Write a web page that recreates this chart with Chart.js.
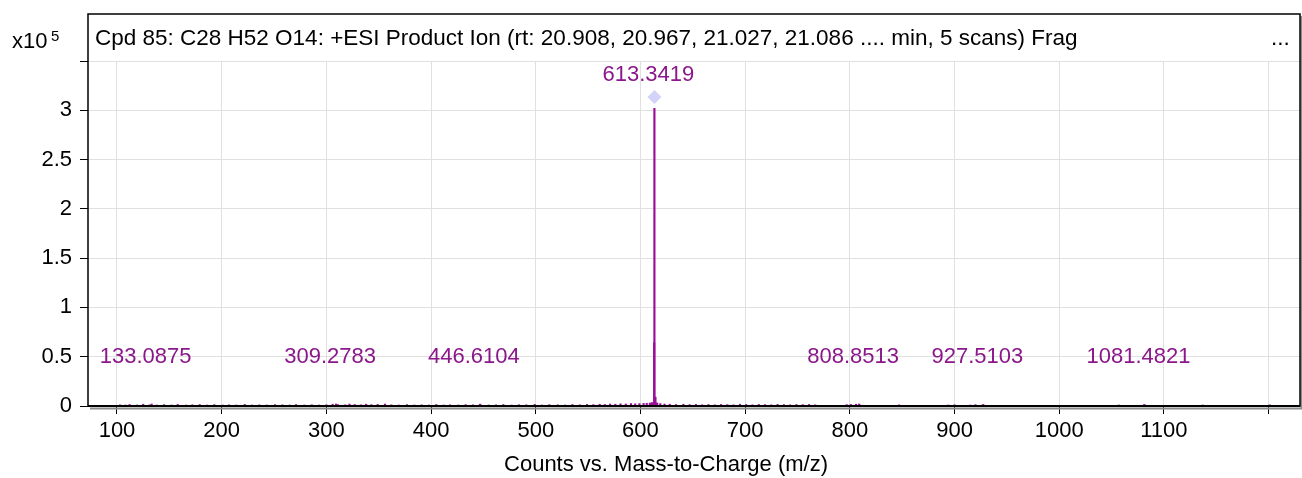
<!DOCTYPE html>
<html>
<head>
<meta charset="utf-8">
<script src="https://cdn.jsdelivr.net/npm/chart.js@4/dist/chart.umd.min.js"></script>
<style>
  html, body { margin: 0; padding: 0; background: #fff; overflow: hidden; }
  canvas { display: block; }
</style>
</head>
<body>
<canvas id="spectrum" width="1302" height="478"></canvas>
<script>
// MS/MS spectrum, Cpd 85 (C28 H52 O14), intensities in units of 10^5 counts

const titleText = 'Cpd 85: C28 H52 O14: +ESI Product Ion (rt: 20.908, 20.967, 21.027, 21.086 .... min, 5 scans) Frag';
const xAxisTitle = 'Counts vs. Mass-to-Charge (m/z)';
const xTicks = [100, 200, 300, 400, 500, 600, 700, 800, 900, 1000, 1100, 1200];
const yTicks = [0, 0.5, 1, 1.5, 2, 2.5, 3, 3.5];

// labelled peaks
const peakMz  = [133.0875, 309.2783, 446.6104, 613.3419, 808.8513, 927.5103, 1081.4821];
const peakInt = [0.02, 0.02, 0.018, 3.02, 0.02, 0.015, 0.015];

// unlabelled peaks next to the precursor
const minorMz  = [613.10, 614.34, 615.34];
const minorInt = [0.64, 0.09, 0.03];

// baseline noise
const noiseMz = [
  103, 108, 112, 119, 125, 131, 138, 145, 152, 158,
  166, 172, 179, 186, 193, 201, 207, 214, 222, 229,
  236, 243, 251, 258, 265, 271, 279, 286, 293, 300,
  306, 311, 318, 322, 327, 333, 338, 343, 349, 356,
  362, 369, 377, 384, 391, 398, 405, 412, 418, 426,
  433, 440, 447, 455, 462, 469, 477, 484, 491, 499,
  506, 513, 521, 528, 535, 542, 549, 555, 561, 566,
  571, 576, 581, 586, 591, 595, 599, 603, 606, 609,
  611, 616, 619, 623, 628, 634, 641, 647, 653, 659,
  665, 671, 677, 683, 689, 695, 701, 707, 713, 719,
  725, 731, 737, 743, 749, 755, 761, 767, 797, 801,
  806, 809, 847, 894, 900, 915, 920, 927, 1057, 1081,
  1137, 1201
];
const noiseInt = [
  0.012, 0.010, 0.015, 0.010, 0.018, 0.012, 0.010, 0.014, 0.010, 0.016,
  0.010, 0.012, 0.015, 0.010, 0.014, 0.010, 0.012, 0.010, 0.016, 0.010,
  0.012, 0.010, 0.014, 0.012, 0.010, 0.015, 0.010, 0.013, 0.010, 0.012,
  0.018, 0.014, 0.012, 0.020, 0.015, 0.012, 0.018, 0.014, 0.016, 0.020,
  0.012, 0.010, 0.014, 0.010, 0.012, 0.010, 0.015, 0.010, 0.012, 0.010,
  0.014, 0.012, 0.018, 0.010, 0.012, 0.015, 0.010, 0.013, 0.012, 0.016,
  0.010, 0.014, 0.012, 0.010, 0.015, 0.012, 0.016, 0.014, 0.018, 0.015,
  0.020, 0.018, 0.022, 0.020, 0.025, 0.022, 0.024, 0.026, 0.028, 0.030,
  0.035, 0.030, 0.024, 0.020, 0.018, 0.015, 0.018, 0.014, 0.016, 0.012,
  0.015, 0.012, 0.016, 0.014, 0.012, 0.018, 0.015, 0.012, 0.016, 0.014,
  0.012, 0.016, 0.014, 0.012, 0.015, 0.014, 0.016, 0.012, 0.014, 0.016,
  0.018, 0.016, 0.012, 0.010, 0.012, 0.010, 0.014, 0.012, 0.010, 0.012,
  0.010, 0.012
];

const FONT = "'Liberation Sans', Arial, sans-serif";
const PEAK_COLOR = '#9a0f9a';
const LABEL_COLOR = '#8b178b';

function toPoints(mz, ints) {
  return mz.map((m, i) => ({ x: m, y: ints[i] }));
}

const allPeaks = toPoints(noiseMz, noiseInt)
  .concat(toPoints(minorMz, minorInt))
  .concat(toPoints(peakMz, peakInt))
  .sort((a, b) => a.x - b.x);

const topIdx = peakInt.indexOf(Math.max(...peakInt));

// frame, title strip, labels
const decorPlugin = {
  id: 'decor',
  afterDraw(chart) {
    const ctx = chart.ctx;
    const area = chart.chartArea;
    const xs = chart.scales.x;
    const ys = chart.scales.y;
    ctx.save();

    // shadow
    ctx.strokeStyle = '#8c8c8c';
    ctx.lineWidth = 2;
    ctx.beginPath();
    ctx.moveTo(area.left + 2, area.bottom + 2.5);
    ctx.lineTo(area.right + 1.5, area.bottom + 2.5);
    ctx.lineTo(area.right + 1.5, 16);
    ctx.stroke();

    // frame
    ctx.strokeStyle = '#000';
    ctx.lineWidth = 1.5;
    ctx.strokeRect(area.left, 14, area.right - area.left, area.bottom - 14);
    ctx.lineWidth = 2;
    ctx.beginPath();
    ctx.moveTo(area.left, area.bottom);
    ctx.lineTo(area.right, area.bottom);
    ctx.stroke();

    // title
    ctx.fillStyle = '#000';
    ctx.font = '22.5px ' + FONT;
    ctx.textBaseline = 'alphabetic';
    ctx.textAlign = 'left';
    ctx.fillText(titleText, area.left + 7, 45);
    ctx.fillText('...', area.right - 29, 45);

    // exponent
    ctx.font = '22px ' + FONT;
    ctx.fillText('x10', 12, 48);
    ctx.font = '15px ' + FONT;
    ctx.fillText('5', 51, 41);

    // axis title
    ctx.font = '22px ' + FONT;
    ctx.textAlign = 'center';
    ctx.fillText(xAxisTitle, 666, 471);

    // peak labels
    ctx.fillStyle = LABEL_COLOR;
    ctx.font = '22px ' + FONT;
    ctx.textBaseline = 'middle';
    const zero = ys.getPixelForValue(0);
    peakMz.forEach((m, i) => {
      const px = xs.getPixelForValue(m);
      const top = ys.getPixelForValue(peakInt[i]);
      const y = Math.min(top - 33, zero - 49);
      ctx.fillText(m.toFixed(4), px - 6, y);
    });

    ctx.restore();
  }
};

const ctx = document.getElementById('spectrum').getContext('2d');
new Chart(ctx, {
  type: 'bar',
  data: {
    datasets: [
      {
        type: 'scatter',
        data: [{ x: peakMz[topIdx], y: peakInt[topIdx] + 0.115 }],
        pointStyle: 'rectRot',
        pointRadius: 7,
        backgroundColor: '#d3d3f9',
        borderColor: '#d3d3f9',
        borderWidth: 0
      },
      {
        data: allPeaks,
        backgroundColor: PEAK_COLOR,
        borderWidth: 0,
        barThickness: 1.5
      }
    ]
  },
  options: {
    responsive: false,
    animation: false,
    events: [],
    layout: { autoPadding: false, padding: { top: 61, right: 2, left: 0, bottom: 0 } },
    plugins: { legend: { display: false }, tooltip: { enabled: false } },
    scales: {
      x: {
        type: 'linear',
        min: 72.3,
        max: 1230,
        offset: false,
        afterBuildTicks: s => { s.ticks = xTicks.map(v => ({ value: v })); },
        afterFit: s => { s.height = 72; s.paddingLeft = 0; s.paddingRight = 0; },
        grid: { offset: false, color: '#e0e0e0', tickColor: '#000', tickLength: 8, lineWidth: 1 },
        border: { display: false },
        ticks: {
          color: '#000',
          font: { family: FONT, size: 22 },
          padding: 4,
          maxRotation: 0,
          autoSkip: false,
          callback: v => (v >= 1200 ? '' : v)
        }
      },
      y: {
        min: 0,
        max: 3.5,
        afterBuildTicks: s => { s.ticks = yTicks.map(v => ({ value: v })); },
        afterFit: s => { s.width = 88; },
        grid: { color: '#e0e0e0', tickColor: '#000', tickLength: 8, lineWidth: 1 },
        border: { display: false },
        ticks: {
          color: '#000',
          font: { family: FONT, size: 22 },
          padding: 8,
          callback: v => (v >= 3.5 ? '' : v)
        }
      }
    }
  },
  plugins: [decorPlugin]
});
</script>
</body>
</html>
